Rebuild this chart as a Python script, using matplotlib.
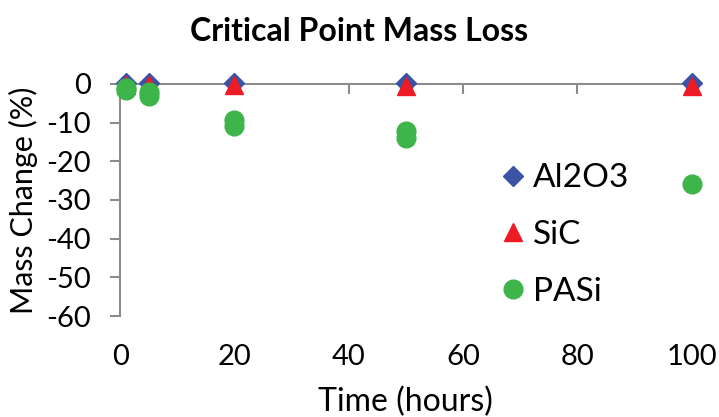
import matplotlib.pyplot as plt

# données
time_al2o3 = [1, 5, 20, 50, 100]
mass_al2o3 = [0.1, 0.2, 0.3, 0.1, 0.1]

time_sic = [1, 5, 20, 50, 100]
mass_sic = [-0.3, -0.2, -0.4, -0.5, -0.5]

time_pasi = [1, 1, 5, 5, 20, 20, 50, 50, 100]
mass_pasi = [-1.2, -1.7, -2.2, -3.2, -9.4, -11.0, -12.3, -13.9, -25.9]

x_ticks = [0, 20, 40, 60, 80, 100]
y_ticks = [0, -10, -20, -30, -40, -50, -60]

plt.rcParams['font.family'] = ['Lato', 'DejaVu Sans']
plt.rcParams['axes.unicode_minus'] = False

fig = plt.figure(figsize=(7.19, 4.17), dpi=100)
ax = fig.add_axes([0.167, 0.242, 0.795, 0.557])

grey = '#8c8c8c'

ax.plot(time_al2o3, mass_al2o3, linestyle='none', marker='D', markersize=10,
        color='#3a53a4', label='Al2O3', clip_on=False, zorder=3)
ax.plot(time_sic, mass_sic, linestyle='none', marker='^', markersize=13,
        color='#ed1c24', label='SiC', clip_on=False, zorder=4)
ax.plot(time_pasi, mass_pasi, linestyle='none', marker='o', markersize=13.5,
        color='#3db54a', label='PASi', clip_on=False, zorder=5)

ax.set_xlim(0, 100)
ax.set_ylim(-60, 0)
ax.set_xticks(x_ticks)
ax.set_yticks(y_ticks)

for side in ['right', 'bottom']:
    ax.spines[side].set_visible(False)
for side in ['left', 'top']:
    ax.spines[side].set_color(grey)
    ax.spines[side].set_linewidth(1.5)

ax.xaxis.set_tick_params(top=True, bottom=False, labelbottom=True, labeltop=False,
                         direction='in', length=7, width=1.5, color=grey,
                         pad=20, labelsize=21)
ax.yaxis.set_tick_params(direction='out', length=7, width=1.5, color=grey,
                         pad=14, labelsize=21)

ax.set_xlabel('Time (hours)', fontsize=23, labelpad=12)
ax.set_ylabel('Mass Change (%)', fontsize=22, labelpad=6)
fig.suptitle('Critical Point Mass Loss', fontsize=23, fontweight='bold', y=0.96)

ax.legend(loc='upper left', bbox_to_anchor=(0.635, 0.715), frameon=False,
          fontsize=24, handletextpad=0.1, labelspacing=0.8, borderaxespad=0,
          handlelength=1.0)

fig.savefig('out.png', dpi=100)
